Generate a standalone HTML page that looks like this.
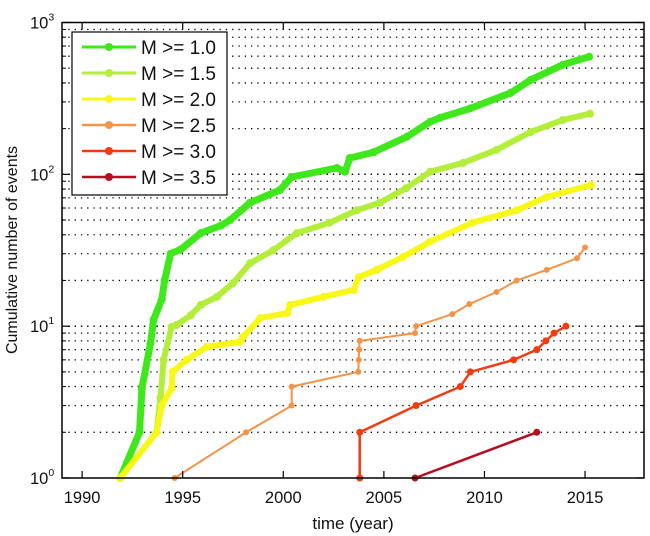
<!DOCTYPE html>
<html><head><meta charset="utf-8"><style>
html,body{margin:0;padding:0;background:#fff;}
svg{display:block;font-family:"Liberation Sans",sans-serif;}
</style></head><body>
<svg id="chart" width="650" height="536" viewBox="0 0 650 536" xmlns="http://www.w3.org/2000/svg">
<rect x="0" y="0" width="650" height="536" fill="#fff"/>
<g id="grid"></g>
<g id="series"></g>
<g id="axes"></g>
<g id="legend"></g>
<text x="353" y="529" font-size="17" text-anchor="middle" fill="#111">time (year)</text>
<text x="0" y="0" font-size="16" text-anchor="middle" fill="#111" transform="translate(17,250) rotate(-90)">Cumulative number of events</text>
</svg>
<script>
const xTicks = [1990, 1995, 2000, 2005, 2010, 2015];
const yDecades = [0, 1, 2, 3];
const seriesNames = ["M >= 1.0", "M >= 1.5", "M >= 2.0", "M >= 2.5", "M >= 3.0", "M >= 3.5"];
const seriesColors = ["#3ee81a", "#b2ee3a", "#f8f818", "#f49448", "#f23c10", "#b80c20"];
const m10Years = [1991.9, 1992.85, 1992.97, 1993.4, 1993.55, 1993.96, 1994.1, 1994.4, 1994.9, 1995.9, 1996.9, 1997.36, 1998.35, 1999.84, 2000.42, 2002.66, 2003.07, 2003.3, 2004.5, 2006.15, 2007.3, 2007.8, 2009.3, 2011.3, 2012.3, 2013.9, 2015.2];
const m10Values = [1, 2, 3.9, 7.7, 11, 15, 20, 30, 32, 41, 46, 50, 65, 79, 96, 110, 104, 128, 140, 177, 222, 236, 272, 344, 419, 527, 595];
const m15Years = [1991.9, 1993.7, 1993.9, 1994.05, 1994.45, 1994.7, 1995.4, 1995.9, 1996.7, 1997.5, 1998.35, 1999.5, 2000.67, 2002.3, 2003.65, 2004.8, 2006.1, 2007.3, 2008.94, 2010.6, 2012.3, 2013.9, 2015.25];
const m15Values = [1, 2, 3.4, 6, 9.9, 10.2, 11.8, 13.8, 15.6, 19.2, 26, 31.6, 41, 48, 58, 65, 81, 104, 119, 145, 190, 228, 251];
const m20Years = [1991.9, 1993.7, 1993.96, 1994.45, 1994.5, 1995.2, 1996.2, 1997.85, 1998.0, 1998.85, 2000.2, 2000.34, 2002.0, 2003.5, 2003.75, 2004.65, 2005.95, 2007.3, 2009.4, 2011.6, 2013.1, 2015.3];
const m20Values = [1, 2, 3, 3.9, 5, 6, 7.3, 7.9, 8.5, 11.3, 12.2, 13.8, 15.6, 17.3, 21, 23.5, 28.6, 36, 48, 58, 71, 85];
const m25Years = [1994.6, 1998.15, 2000.42, 2000.42, 2003.73, 2003.75, 2003.77, 2003.8, 2006.55, 2006.6, 2008.4, 2009.25, 2010.6, 2011.6, 2013.1, 2014.6, 2015.0];
const m25Values = [1, 2, 3, 4, 5, 6, 7, 8, 9, 10, 12, 14, 16.8, 20, 23.5, 28, 33];
const m30Years = [2003.8, 2003.8, 2006.6, 2008.8, 2009.3, 2011.45, 2012.6, 2013.05, 2013.46, 2014.05];
const m30Values = [1, 2, 3, 4, 5, 6, 7, 8, 9, 10];
const m35Years = [2006.55, 2012.6];
const m35Values = [1, 2];
const allYears = [m10Years, m15Years, m20Years, m25Years, m30Years, m35Years];
const allValues = [m10Values, m15Values, m20Values, m25Values, m30Values, m35Values];

const NS = "http://www.w3.org/2000/svg";
const L = 62, R = 644, T = 22.5, B = 478;
const xMin = 1989.0, xMax = 2017.93;
function xs(v){ return L + (v - xMin) / (xMax - xMin) * (R - L); }
function ys(v){ return B - Math.log10(v) / 3 * (B - T); }
function mk(tag, attrs, parent){ const e = document.createElementNS(NS, tag); for (const k in attrs) e.setAttribute(k, attrs[k]); parent.appendChild(e); return e; }

const grid = document.getElementById('grid');
for (let d = 0; d < 3; d++) {
  for (let m = 1; m <= 10; m++) {
    if (d === 0 && m === 1) continue;
    const y = ys(m * Math.pow(10, d));
    if (y <= T + 0.5) continue;
    const ln = mk('line', {x1: L, x2: R, y1: y, y2: y, stroke: '#000', 'stroke-width': 1.3, 'stroke-dasharray': '1.3,5'}, grid);
    
    
  }
}

const seriesG = document.getElementById('series');
const widths = [7, 6, 6, 2, 2.5, 2.5];
const rads = [4, 4, 4, 3, 3.5, 3.5];
for (let s = 0; s < allYears.length; s++) {
  const g = mk('g', {}, seriesG);
  
  
  const pts = allYears[s].map((yr, i) => xs(yr).toFixed(1) + ',' + ys(allValues[s][i]).toFixed(1)).join(' ');
  const pl = mk('polyline', {points: pts, fill: 'none', stroke: seriesColors[s], 'stroke-width': widths[s], 'stroke-linejoin': 'round', 'stroke-linecap': 'round'}, g);
  
  
  for (let i = 0; i < allYears[s].length; i++) {
    const c = mk('circle', {cx: xs(allYears[s][i]), cy: ys(allValues[s][i]), r: rads[s], fill: seriesColors[s]}, g);
    
    
  }
}

const axes = document.getElementById('axes');
const frame = mk('rect', {x: L, y: T, width: R - L, height: B - T, fill: 'none', stroke: '#000', 'stroke-width': 1.5}, axes);


for (const t of xTicks) {
  const x = xs(t);
  mk('line', {x1: x, x2: x, y1: B, y2: B - 7, stroke: '#000', 'stroke-width': 1.2}, axes);
  mk('line', {x1: x, x2: x, y1: T, y2: T + 7, stroke: '#000', 'stroke-width': 1.2}, axes);
  const tx = mk('text', {x: x, y: 503, 'font-size': 16.5, 'text-anchor': 'middle', fill: '#111'}, axes);
  tx.textContent = t;
  
  
}
for (let d = 0; d < 3; d++) {
  for (let m = 2; m <= 9; m++) {
    const y = ys(m * Math.pow(10, d));
    mk('line', {x1: L, x2: L + 4, y1: y, y2: y, stroke: '#000', 'stroke-width': 1}, axes);
    mk('line', {x1: R, x2: R - 4, y1: y, y2: y, stroke: '#000', 'stroke-width': 1}, axes);
  }
}
for (const d of yDecades) {
  const y = ys(Math.pow(10, d));
  mk('line', {x1: L, x2: L + 8, y1: y, y2: y, stroke: '#000', 'stroke-width': 1.2}, axes);
  mk('line', {x1: R, x2: R - 8, y1: y, y2: y, stroke: '#000', 'stroke-width': 1.2}, axes);
  const tx = mk('text', {x: 30, y: y + 6, 'font-size': 16.5, fill: '#111'}, axes);
  
  
  tx.textContent = '10';
  const sup = mk('tspan', {dy: -8, 'font-size': 10.5}, tx);
  sup.textContent = d;
}

const legend = document.getElementById('legend');
const box = mk('rect', {x: 72, y: 32, width: 155, height: 163, fill: '#fff', stroke: '#000', 'stroke-width': 1.2}, legend);


const legY = [47, 73, 99, 125, 151, 177];
for (let s = 0; s < seriesNames.length; s++) {
  const g = mk('g', {}, legend);
  
  
  mk('line', {x1: 82, x2: 136, y1: legY[s], y2: legY[s], stroke: seriesColors[s], 'stroke-width': s < 3 ? 3 : 2.5}, g);
  mk('circle', {cx: 109, cy: legY[s], r: 4, fill: seriesColors[s]}, g);
  const tx = mk('text', {x: 141, y: legY[s] + 7, 'font-size': 19, fill: '#111'}, g);
  tx.textContent = seriesNames[s];
}
</script>
</body></html>
